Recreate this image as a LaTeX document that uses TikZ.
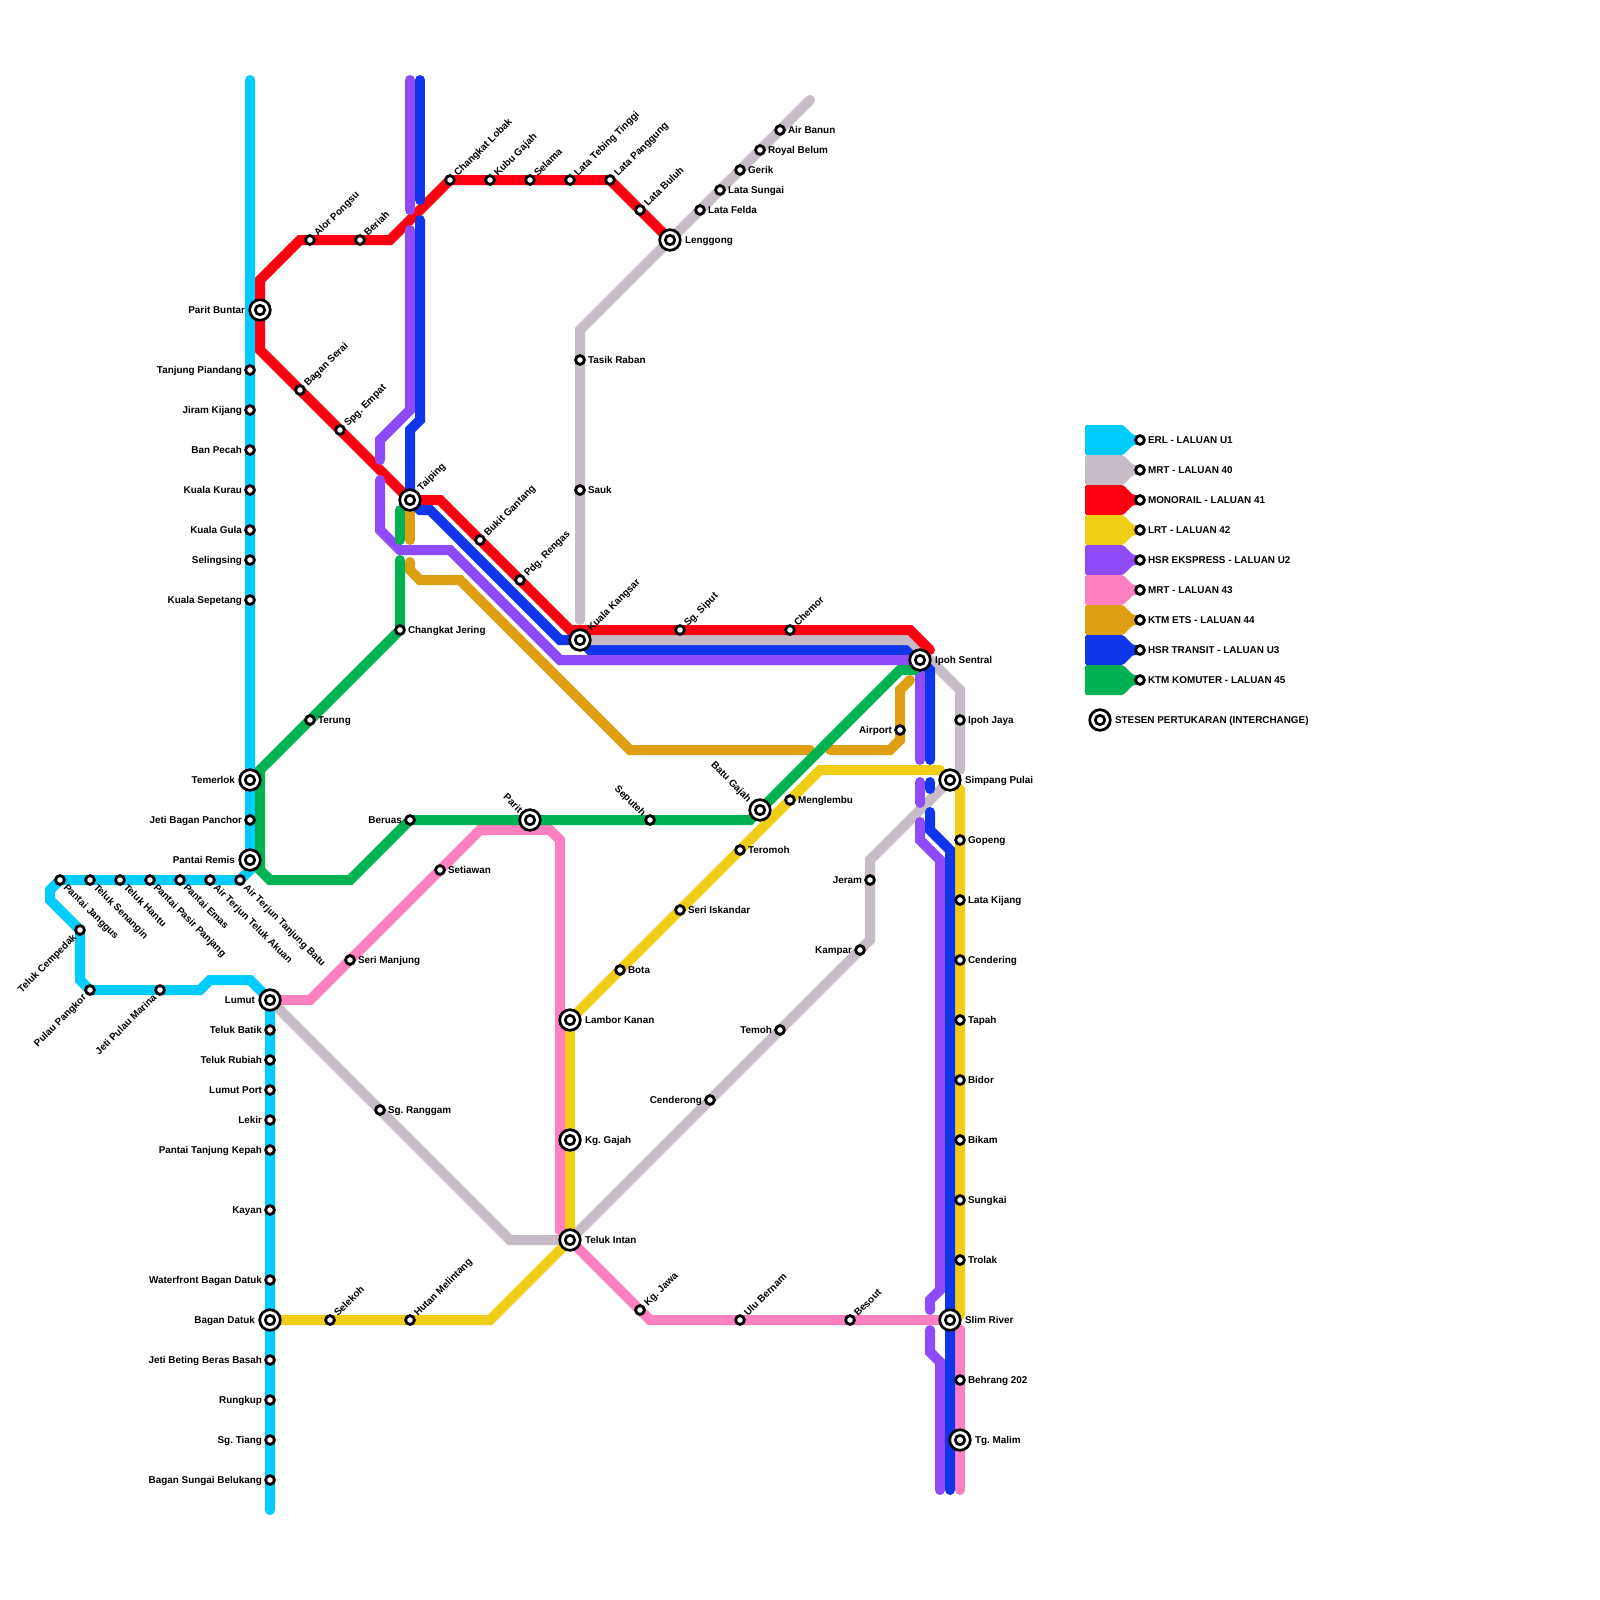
\documentclass[tikz,border=0pt]{standalone}
\usepackage{fontspec}
\setmainfont{Liberation Sans}
\frenchspacing
\pgfdeclarelayer{lines}
\pgfsetlayers{lines,main}
\definecolor{cERL}{HTML}{00CCFF}
\definecolor{cGrey}{HTML}{C7BBC7}
\definecolor{cRed}{HTML}{FF0013}
\definecolor{cYellow}{HTML}{F0CE15}
\definecolor{cPurple}{HTML}{8F4BFA}
\definecolor{cPink}{HTML}{FF80C0}
\definecolor{cGold}{HTML}{DF9F14}
\definecolor{cBlue}{HTML}{1035EB}
\definecolor{cGreen}{HTML}{00B251}
\tikzset{
  stmark/.style={circle,draw=black,fill=white,line width=2.8pt,minimum size=8.8pt,inner sep=0pt,outer sep=0pt},
  intouter/.style={circle,draw=black,fill=white,line width=2.7pt,minimum size=20.6pt,inner sep=0pt,outer sep=0pt},
  intinner/.style={circle,draw=black,fill=white,line width=2.7pt,minimum size=9.4pt,inner sep=0pt,outer sep=0pt},
  lab/.style={inner sep=0pt,outer sep=0pt,text height=7.2pt,text depth=0pt,font=\fontsize{9.9}{12}\selectfont\bfseries},
  mline/.style={line width=10pt,line cap=round,line join=miter,miter limit=4},
}
% labels: name x y offset text
\newcommand{\labE}[5]{\node[lab,anchor=west] (#1-t) at ({#2+#4},{#3}) {#5};}
\newcommand{\labW}[5]{\node[lab,anchor=east] (#1-t) at ({#2-#4},{#3}) {#5};}
\newcommand{\labNE}[5]{\node[lab,rotate=45,anchor=west] (#1-t) at ({#2+#4*0.7},{#3-#4*0.7}) {#5};}
\newcommand{\labSE}[5]{\node[lab,rotate=-45,anchor=west] (#1-t) at ({#2+#4*0.7},{#3+#4*0.7}) {#5};}
\newcommand{\labSW}[5]{\node[lab,rotate=45,anchor=east] (#1-t) at ({#2-#4*0.7},{#3+#4*0.7}) {#5};}
\newcommand{\labNW}[5]{\node[lab,rotate=-45,anchor=east] (#1-t) at ({#2-#4*0.7},{#3-#4*0.7}) {#5};}
% station: dir name x y text
\newcommand{\stn}[5]{\node[stmark] (#2) at (#3,#4) {};\csname lab#1\endcsname{#2}{#3}{#4}{8}{#5}}
\newcommand{\ich}[5]{\node[intouter] (#2) at (#3,#4) {};\node[intinner] (#2-i) at (#3,#4) {};\csname lab#1\endcsname{#2}{#3}{#4}{15}{#5}}
% legend tag: colour, y
\newcommand{\ltag}[2]{\fill[#1,rounded corners=1.5pt] (1085,{#2-15}) -- (1123,{#2-15}) -- (1133,{#2-5}) -- (1140,{#2-5}) -- (1140,{#2+5}) -- (1133,{#2+5}) -- (1123,{#2+15}) -- (1085,{#2+15}) -- cycle;}
\begin{document}
\begin{tikzpicture}[x=1pt,y=-1pt]
\useasboundingbox (0,0) rectangle (1600,1600);
% ERL
\stn{W}{tanjung}{250}{370}{Tanjung Piandang}
\stn{W}{jiram}{250}{410}{Jiram Kijang}
\stn{W}{banpecah}{250}{450}{Ban Pecah}
\stn{W}{kurau}{250}{490}{Kuala Kurau}
\stn{W}{gula}{250}{530}{Kuala Gula}
\stn{W}{selingsing}{250}{560}{Selingsing}
\stn{W}{sepetang}{250}{600}{Kuala Sepetang}
\ich{W}{temerlok}{250}{780}{Temerlok}
\stn{W}{panchor}{250}{820}{Jeti Bagan Panchor}
\ich{W}{remis}{250}{860}{Pantai Remis}
\stn{SE}{tjbatu}{240}{880}{Air Terjun Tanjung Batu}
\stn{SE}{tlakuan}{210}{880}{Air Terjun Teluk Akuan}
\stn{SE}{emas}{180}{880}{Pantai Emas}
\stn{SE}{pasir}{150}{880}{Pantai Pasir Panjang}
\stn{SE}{hantu}{120}{880}{Teluk Hantu}
\stn{SE}{senangin}{90}{880}{Teluk Senangin}
\stn{SE}{janggus}{60}{880}{Pantai Janggus}
\stn{SW}{cempedak}{80}{930}{Teluk Cempedak}
\stn{SW}{pangkor}{90}{990}{Pulau Pangkor}
\stn{SW}{marina}{160}{990}{Jeti Pulau Marina}
\ich{W}{lumut}{270}{1000}{Lumut}
\stn{W}{batik}{270}{1030}{Teluk Batik}
\stn{W}{rubiah}{270}{1060}{Teluk Rubiah}
\stn{W}{lumutport}{270}{1090}{Lumut Port}
\stn{W}{lekir}{270}{1120}{Lekir}
\stn{W}{kepah}{270}{1150}{Pantai Tanjung Kepah}
\stn{W}{kayan}{270}{1210}{Kayan}
\stn{W}{waterfront}{270}{1280}{Waterfront Bagan Datuk}
\ich{W}{bagandatuk}{270}{1320}{Bagan Datuk}
\stn{W}{beting}{270}{1360}{Jeti Beting Beras Basah}
\stn{W}{rungkup}{270}{1400}{Rungkup}
\stn{W}{tiang}{270}{1440}{Sg. Tiang}
\stn{W}{belukang}{270}{1480}{Bagan Sungai Belukang}
% Red
\ich{W}{paritbuntar}{260}{310}{Parit Buntar}
\stn{NE}{alor}{310}{240}{Alor Pongsu}
\stn{NE}{beriah}{360}{240}{Beriah}
\stn{NE}{lobak}{450}{180}{Changkat Lobak}
\stn{NE}{kubu}{490}{180}{Kubu Gajah}
\stn{NE}{selama}{530}{180}{Selama}
\stn{NE}{tebing}{570}{180}{Lata Tebing Tinggi}
\stn{NE}{panggung}{610}{180}{Lata Panggung}
\stn{NE}{buluh}{640}{210}{Lata Buluh}
\ich{E}{lenggong}{670}{240}{Lenggong}
\stn{NE}{bserai}{300}{390}{Bagan Serai}
\stn{NE}{empat}{340}{430}{Spg. Empat}
\node[intouter] (taiping) at (410,500) {};\node[intinner] (taiping-i) at (410,500) {};
\node[lab,rotate=45,anchor=west] (taiping-t) at (419,489) {Taiping};
\stn{NE}{gantang}{480}{540}{Bukit Gantang}
\stn{NE}{rengas}{520}{580}{Pdg. Rengas}
\node[intouter] (kk) at (580,640) {};\node[intinner] (kk-i) at (580,640) {};
\node[lab,rotate=45,anchor=west] (kk-t) at (589,629) {Kuala Kangsar};
\stn{NE}{siput}{680}{630}{Sg. Siput}
\stn{NE}{chemor}{790}{630}{Chemor}
\ich{E}{ipoh}{920}{660}{Ipoh Sentral}
% Grey
\stn{E}{felda}{700}{210}{Lata Felda}
\stn{E}{sungai}{720}{190}{Lata Sungai}
\stn{E}{gerik}{740}{170}{Gerik}
\stn{E}{belum}{760}{150}{Royal Belum}
\stn{E}{banun}{780}{130}{Air Banun}
\stn{E}{tasik}{580}{360}{Tasik Raban}
\stn{E}{sauk}{580}{490}{Sauk}
\stn{E}{ipohjaya}{960}{720}{Ipoh Jaya}
\ich{E}{simpang}{950}{780}{Simpang Pulai}
\stn{W}{jeram}{870}{880}{Jeram}
\stn{W}{kampar}{860}{950}{Kampar}
\stn{W}{temoh}{780}{1030}{Temoh}
\stn{W}{cenderong}{710}{1100}{Cenderong}
\ich{E}{telukintan}{570}{1240}{Teluk Intan}
\stn{E}{ranggam}{380}{1110}{Sg. Ranggam}
% Yellow
\stn{NE}{selekoh}{330}{1320}{Selekoh}
\stn{NE}{hutan}{410}{1320}{Hutan Melintang}
\ich{E}{kggajah}{570}{1140}{Kg. Gajah}
\ich{E}{lambor}{570}{1020}{Lambor Kanan}
\stn{E}{bota}{620}{970}{Bota}
\stn{E}{iskandar}{680}{910}{Seri Iskandar}
\stn{E}{teromoh}{740}{850}{Teromoh}
\stn{E}{menglembu}{790}{800}{Menglembu}
\stn{E}{gopeng}{960}{840}{Gopeng}
\stn{E}{kijang}{960}{900}{Lata Kijang}
\stn{E}{cendering}{960}{960}{Cendering}
\stn{E}{tapah}{960}{1020}{Tapah}
\stn{E}{bidor}{960}{1080}{Bidor}
\stn{E}{bikam}{960}{1140}{Bikam}
\stn{E}{sungkai}{960}{1200}{Sungkai}
\stn{E}{trolak}{960}{1260}{Trolak}
\ich{E}{slim}{950}{1320}{Slim River}
% Pink
\stn{E}{manjung}{350}{960}{Seri Manjung}
\stn{E}{setiawan}{440}{870}{Setiawan}
\stn{NE}{jawa}{640}{1310}{Kg. Jawa}
\stn{NE}{bernam}{740}{1320}{Ulu Bernam}
\stn{NE}{besout}{850}{1320}{Besout}
\stn{E}{behrang}{960}{1380}{Behrang 202}
\ich{E}{malim}{960}{1440}{Tg. Malim}
% Gold
\stn{W}{airport}{900}{730}{Airport}
% Green
\stn{E}{jering}{400}{630}{Changkat Jering}
\stn{E}{terung}{310}{720}{Terung}
\stn{W}{beruas}{410}{820}{Beruas}
\node[intouter] (parit) at (530,820) {};\node[intinner] (parit-i) at (530,820) {};
\node[lab,rotate=-45,anchor=east] (parit-t) at (521,811) {Parit};
\stn{NW}{seputeh}{650}{820}{Seputeh}
\node[intouter] (batugajah) at (760,810) {};\node[intinner] (batugajah-i) at (760,810) {};
\node[lab,rotate=-45,anchor=east] (batugajah-t) at (750,800) {Batu Gajah};
\begin{pgfonlayer}{lines}
\fill[white] (0,0) rectangle (1600,1600);
% ERL
\draw[mline,cERL] (250,80) -- (remis.center) -- (250,870) -- (tjbatu.center) -- (janggus.center) -- (50,890) -- (50,900) -- (cempedak.center) -- (80,980) -- (pangkor.center) -- (200,990) -- (210,980) -- (250,980) -- (lumut.center) -- (270,1510);
% Blue section east of Kuala Kangsar sits below the grey
\draw[mline,cBlue,line cap=butt] (kk.center) -- (590,650) -- (910,650) -- (ipoh.center);
% Grey
\draw[mline,cGrey] (810,100) -- (lenggong.center) -- (580,330) -- (580,620);
\draw[mline,cGrey] (kk.center) -- (910,640) -- (960,690) -- (960,770);
\draw[mline,cGrey] (simpang.center) -- (870,860) -- (870,940) -- (telukintan.center);
\draw[mline,cGrey] (lumut.center) -- (510,1240) -- (telukintan.center);
% Red
\draw[mline,cRed] (lenggong.center) -- (610,180) -- (450,180) -- (390,240) -- (300,240) -- (260,280) -- (260,350) -- (taiping.center);
\draw[mline,cRed] (taiping.center) -- (440,500) -- (570,630) -- (910,630) -- (930,650);
% Yellow
\draw[mline,cYellow] (bagandatuk.center) -- (490,1320) -- (telukintan.center) -- (lambor.center) -- (820,770) -- (940,770);
\draw[mline,cYellow] (simpang.center) -- (960,790) -- (960,1315);
% Purple
\draw[mline,cPurple] (410,80) -- (410,210);
\draw[mline,cPurple] (410,230) -- (410,410) -- (380,440) -- (380,460);
\draw[mline,cPurple] (380,480) -- (380,530) -- (400,550) -- (450,550) -- (560,660) -- (ipoh.center);
\draw[mline,cPurple] (ipoh.center) -- (920,760);
\draw[mline,cPurple] (920,782) -- (920,803);
\draw[mline,cPurple] (920,822) -- (920,840) -- (940,860) -- (940,1290) -- (930,1300) -- (930,1310);
\draw[mline,cPurple] (930,1330) -- (930,1352) -- (940,1362) -- (940,1490);
% Pink
\draw[mline,cPink] (lumut.center) -- (310,1000) -- (480,830) -- (550,830) -- (560,840) -- (560,1230) -- (telukintan.center) -- (650,1320) -- (slim.center);
\draw[mline,cPink] (slim.center) -- (960,1330) -- (960,1490);
% Gold
\draw[mline,cGold] (taiping.center) -- (410,540);
\draw[mline,cGold] (410,562) -- (410,570) -- (420,580) -- (460,580) -- (630,750) -- (810,750);
\draw[mline,cGold] (830,750) -- (890,750) -- (900,740) -- (900,690) -- (910,680);
% Blue
\draw[mline,cBlue] (420,80) -- (420,200);
\draw[mline,cBlue] (420,220) -- (420,420) -- (410,430) -- (taiping.center);
\draw[mline,cBlue] (taiping.center) -- (420,510) -- (430,510) -- (560,640) -- (kk.center);
\draw[mline,cBlue] (ipoh.center) -- (930,670) -- (930,760);
\draw[mline,cBlue] (930,782) -- (930,789);
\draw[mline,cBlue] (930,812) -- (930,830) -- (950,850) -- (950,1490);
% Green
\draw[mline,cGreen] (400,510) -- (400,540);
\draw[mline,cGreen] (400,560) -- (jering.center) -- (260,770) -- (260,870) -- (270,880) -- (350,880) -- (beruas.center) -- (750,820) -- (batugajah.center) -- (900,670) -- (915,670);
\end{pgfonlayer}
% Legend
\ltag{cERL}{440}
\ltag{cGrey}{470}
\ltag{cRed}{500}
\ltag{cYellow}{530}
\ltag{cPurple}{560}
\ltag{cPink}{590}
\ltag{cGold}{620}
\ltag{cBlue}{650}
\ltag{cGreen}{680}
\stn{E}{l1}{1140}{440}{ERL - LALUAN U1}
\stn{E}{l2}{1140}{470}{MRT - LALUAN 40}
\stn{E}{l3}{1140}{500}{MONORAIL - LALUAN 41}
\stn{E}{l4}{1140}{530}{LRT - LALUAN 42}
\stn{E}{l5}{1140}{560}{HSR EKSPRESS - LALUAN U2}
\stn{E}{l6}{1140}{590}{MRT - LALUAN 43}
\stn{E}{l7}{1140}{620}{KTM ETS - LALUAN 44}
\stn{E}{l8}{1140}{650}{HSR TRANSIT - LALUAN U3}
\stn{E}{l9}{1140}{680}{KTM KOMUTER - LALUAN 45}
\ich{E}{l10}{1100}{720}{STESEN PERTUKARAN (INTERCHANGE)}
\end{tikzpicture}
\end{document}
